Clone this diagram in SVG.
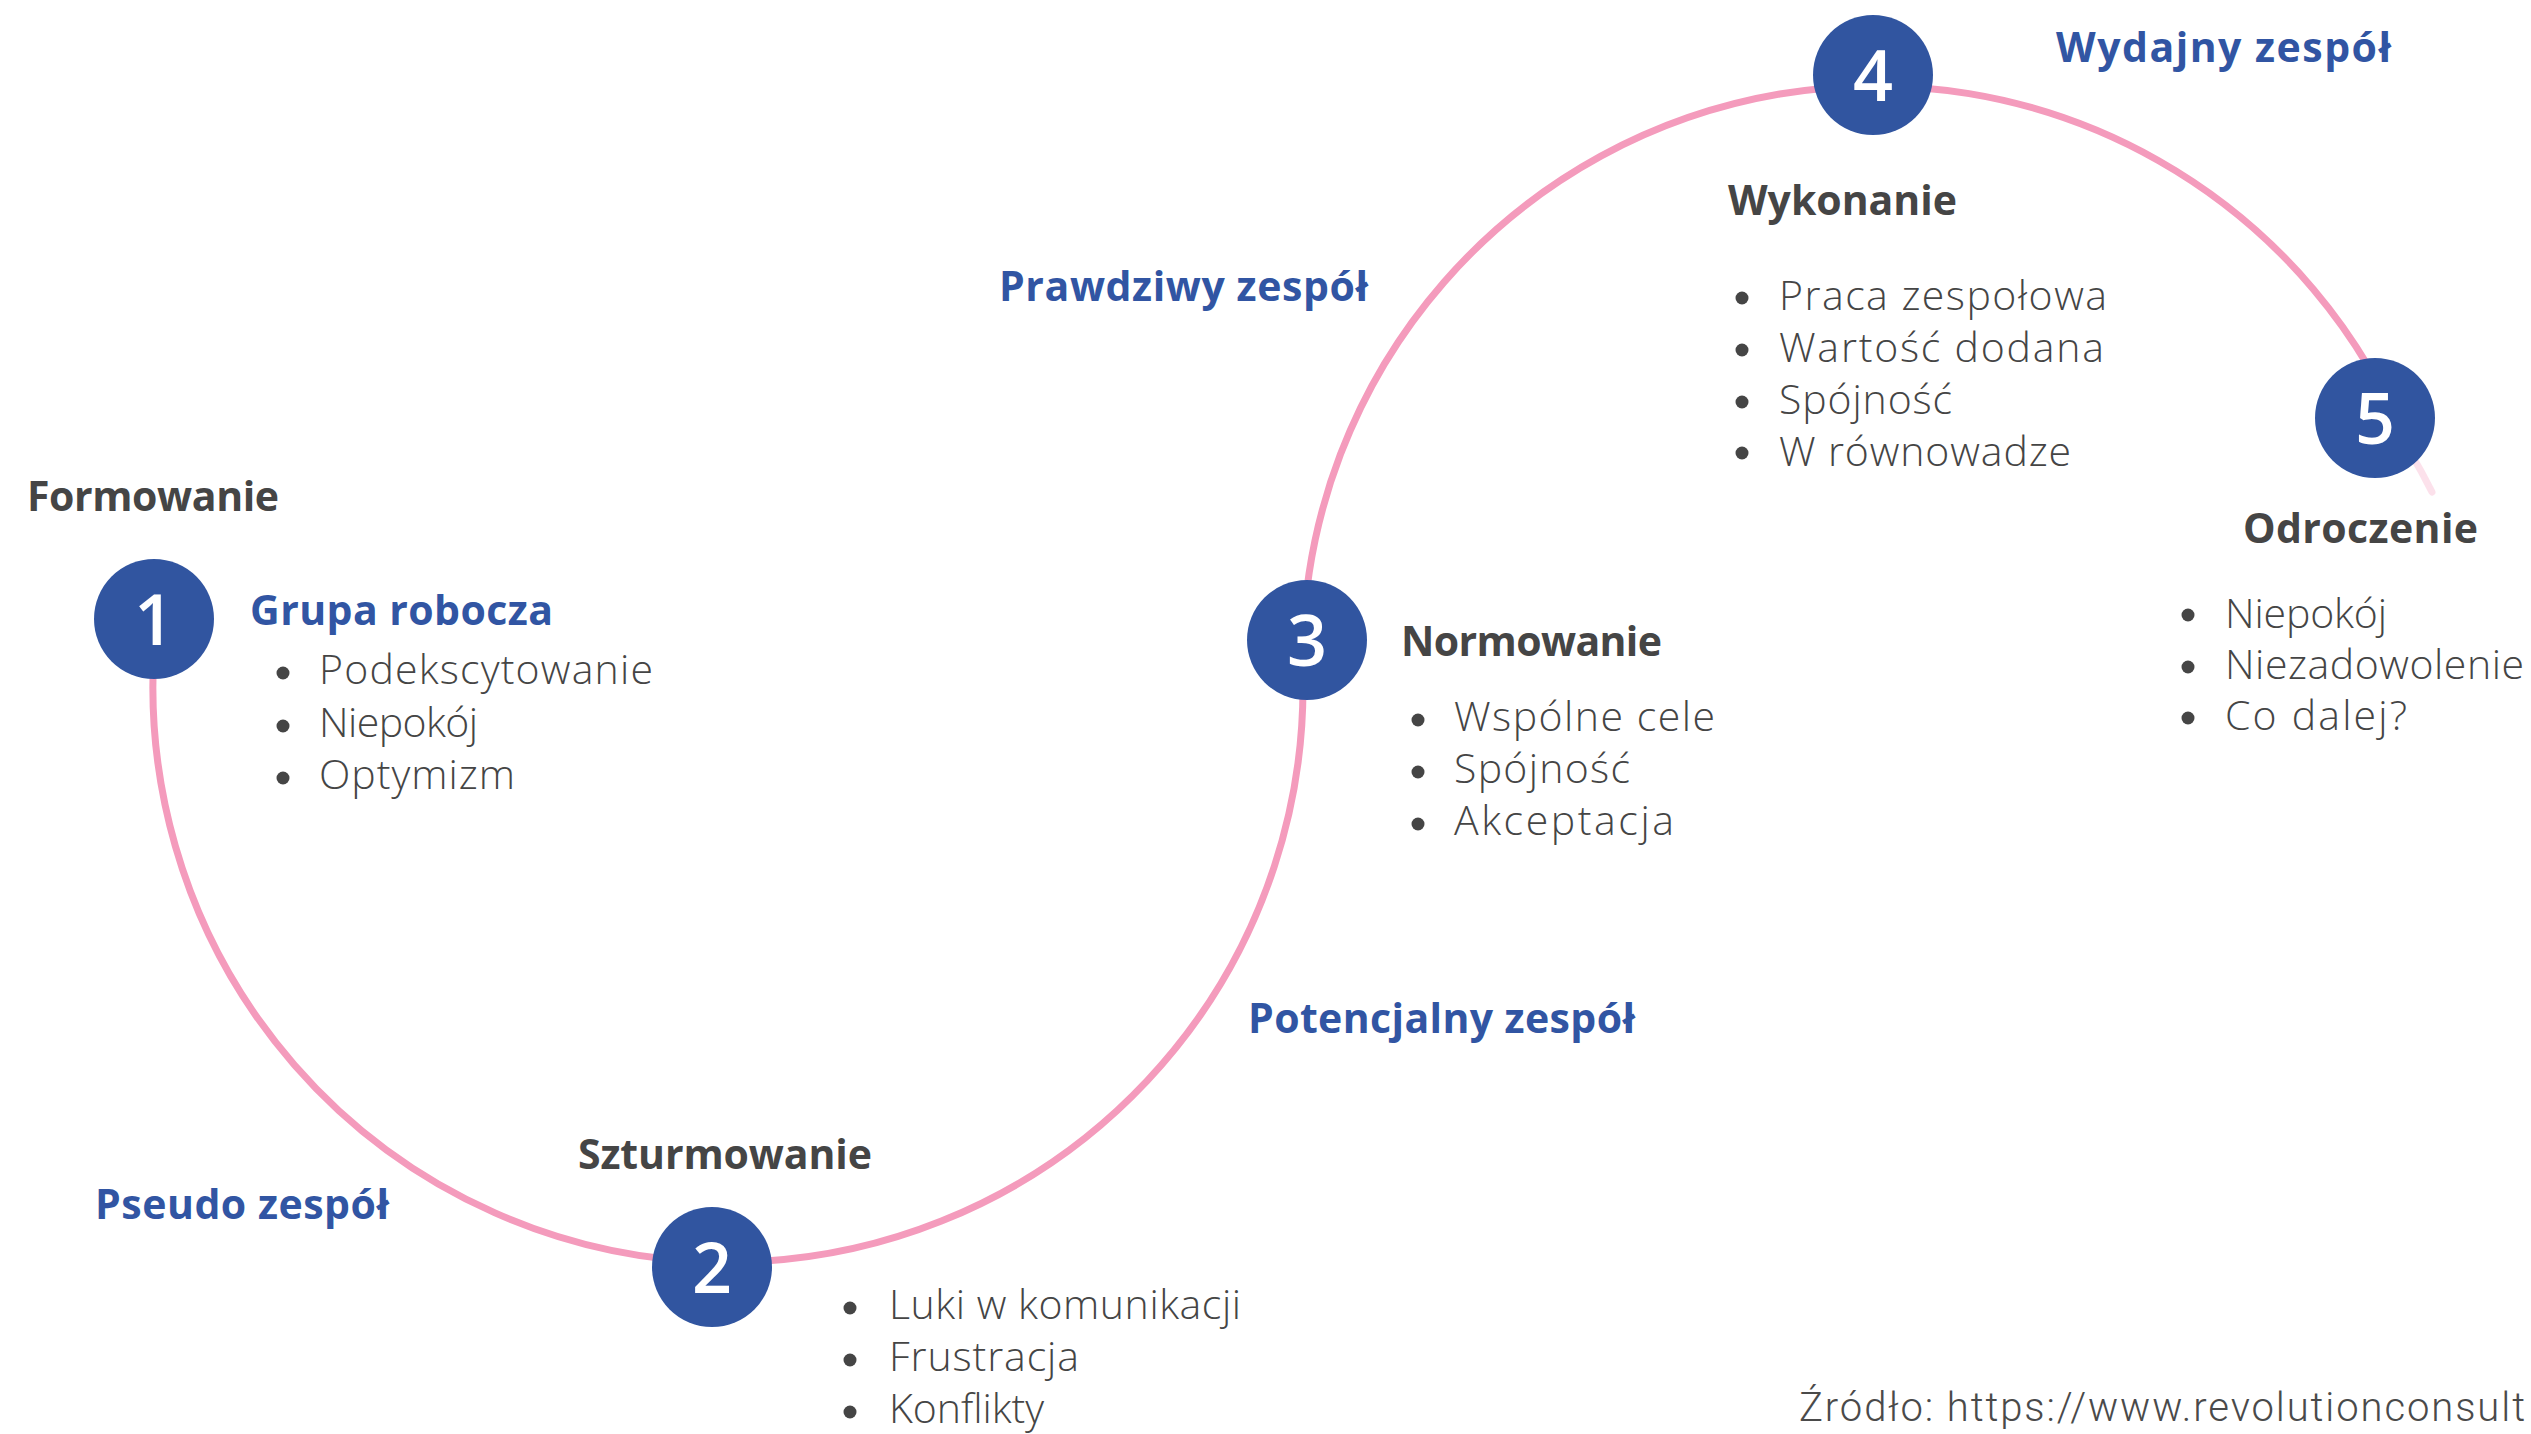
<svg xmlns="http://www.w3.org/2000/svg" width="2531" height="1434" viewBox="0 0 2531 1434">
  <style>
    .arc { fill: none; stroke: #F49BBC; stroke-width: 7; stroke-linecap: round; }
    .num-bg { fill: #3155A0; }
    .num { fill: #FFFFFF; font-family: "Open Sans", "Liberation Sans", sans-serif; font-weight: 600; font-size: 70px; text-anchor: middle; }
    .head { fill: #454545; font-family: "Open Sans", "Liberation Sans", sans-serif; font-weight: 700; font-size: 41px; }
    .team { fill: #3155A3; font-family: "Open Sans", "Liberation Sans", sans-serif; font-weight: 700; font-size: 41px; }
    .item { fill: #454545; font-family: "Open Sans", "Liberation Sans", sans-serif; font-weight: 300; font-size: 41px; }
    .dot { fill: #454545; }
    .src { fill: #4a4a4a; font-family: Roboto, "Liberation Sans", sans-serif; font-weight: 300; font-size: 40px; }
  </style>
  <rect width="2531" height="1434" fill="#FFFFFF"/>

  <g id="connectors">
    <path class="arc" d="M 157 619 A 575 575 0 1 0 1301 640"/>
    <path class="arc" d="M 1303 640 A 573 573 0 0 1 2410 452"/>
    <path class="arc" d="M 2410 452 A 573 573 0 0 1 2432 492" stroke-opacity="0.3"/>
  </g>

  <g id="team-labels">
    <text class="team" x="95" y="1219" textLength="294">Pseudo zespół</text>
    <text class="team" x="1248" y="1033" textLength="387">Potencjalny zespół</text>
    <text class="team" x="999" y="301" textLength="369">Prawdziwy zespół</text>
    <text class="team" x="2056" y="62" textLength="335">Wydajny zespół</text>
  </g>

  <g id="node-1">
    <circle class="num-bg" cx="154" cy="619" r="60"/>
    <text class="num" x="154" y="645">1</text>
    <text class="head" x="27" y="511" textLength="252">Formowanie</text>
    <text class="team" x="250" y="625" textLength="303">Grupa robocza</text>
    <circle class="dot" cx="283" cy="673" r="6.5"/>
    <circle class="dot" cx="283" cy="726" r="6.5"/>
    <circle class="dot" cx="283" cy="778" r="6.5"/>
    <text class="item" x="319" y="684" textLength="334">Podekscytowanie</text>
    <text class="item" x="319" y="737" textLength="159">Niepokój</text>
    <text class="item" x="319" y="789" textLength="196">Optymizm</text>
  </g>

  <g id="node-2">
    <circle class="num-bg" cx="712" cy="1267" r="60"/>
    <text class="num" x="712" y="1293">2</text>
    <text class="head" x="578" y="1169" textLength="294">Szturmowanie</text>
    <circle class="dot" cx="850" cy="1308" r="6.5"/>
    <circle class="dot" cx="850" cy="1360" r="6.5"/>
    <circle class="dot" cx="850" cy="1412" r="6.5"/>
    <text class="item" x="889" y="1319" textLength="352">Luki w komunikacji</text>
    <text class="item" x="889" y="1371" textLength="190">Frustracja</text>
    <text class="item" x="889" y="1423" textLength="155">Konflikty</text>
  </g>

  <g id="node-3">
    <circle class="num-bg" cx="1307" cy="640" r="60"/>
    <text class="num" x="1307" y="666">3</text>
    <text class="head" x="1401" y="656" textLength="261">Normowanie</text>
    <circle class="dot" cx="1418" cy="720" r="6.5"/>
    <circle class="dot" cx="1418" cy="772" r="6.5"/>
    <circle class="dot" cx="1418" cy="824" r="6.5"/>
    <text class="item" x="1454" y="731" textLength="261">Wspólne cele</text>
    <text class="item" x="1454" y="783" textLength="176">Spójność</text>
    <text class="item" x="1454" y="835" textLength="220">Akceptacja</text>
  </g>

  <g id="node-4">
    <circle class="num-bg" cx="1873" cy="75" r="60"/>
    <text class="num" x="1873" y="101">4</text>
    <text class="head" x="1728" y="215" textLength="229">Wykonanie</text>
    <circle class="dot" cx="1742" cy="298" r="6.5"/>
    <circle class="dot" cx="1742" cy="350" r="6.5"/>
    <circle class="dot" cx="1742" cy="402" r="6.5"/>
    <circle class="dot" cx="1742" cy="453" r="6.5"/>
    <text class="item" x="1779" y="310" textLength="328">Praca zespołowa</text>
    <text class="item" x="1779" y="362" textLength="325">Wartość dodana</text>
    <text class="item" x="1779" y="414" textLength="173">Spójność</text>
    <text class="item" x="1779" y="466" textLength="292">W równowadze</text>
  </g>

  <g id="node-5">
    <circle class="num-bg" cx="2375" cy="418" r="60"/>
    <text class="num" x="2375" y="444">5</text>
    <text class="head" x="2243" y="543" textLength="235">Odroczenie</text>
    <circle class="dot" cx="2188" cy="615" r="6.5"/>
    <circle class="dot" cx="2188" cy="667" r="6.5"/>
    <circle class="dot" cx="2188" cy="718" r="6.5"/>
    <text class="item" x="2225" y="628" textLength="162">Niepokój</text>
    <text class="item" x="2225" y="679" textLength="299">Niezadowolenie</text>
    <text class="item" x="2225" y="730" textLength="182">Co dalej?</text>
  </g>

  <g id="source">
    <text class="src" x="1799" y="1421" textLength="726">Źródło: https://www.revolutionconsult</text>
  </g>
</svg>
